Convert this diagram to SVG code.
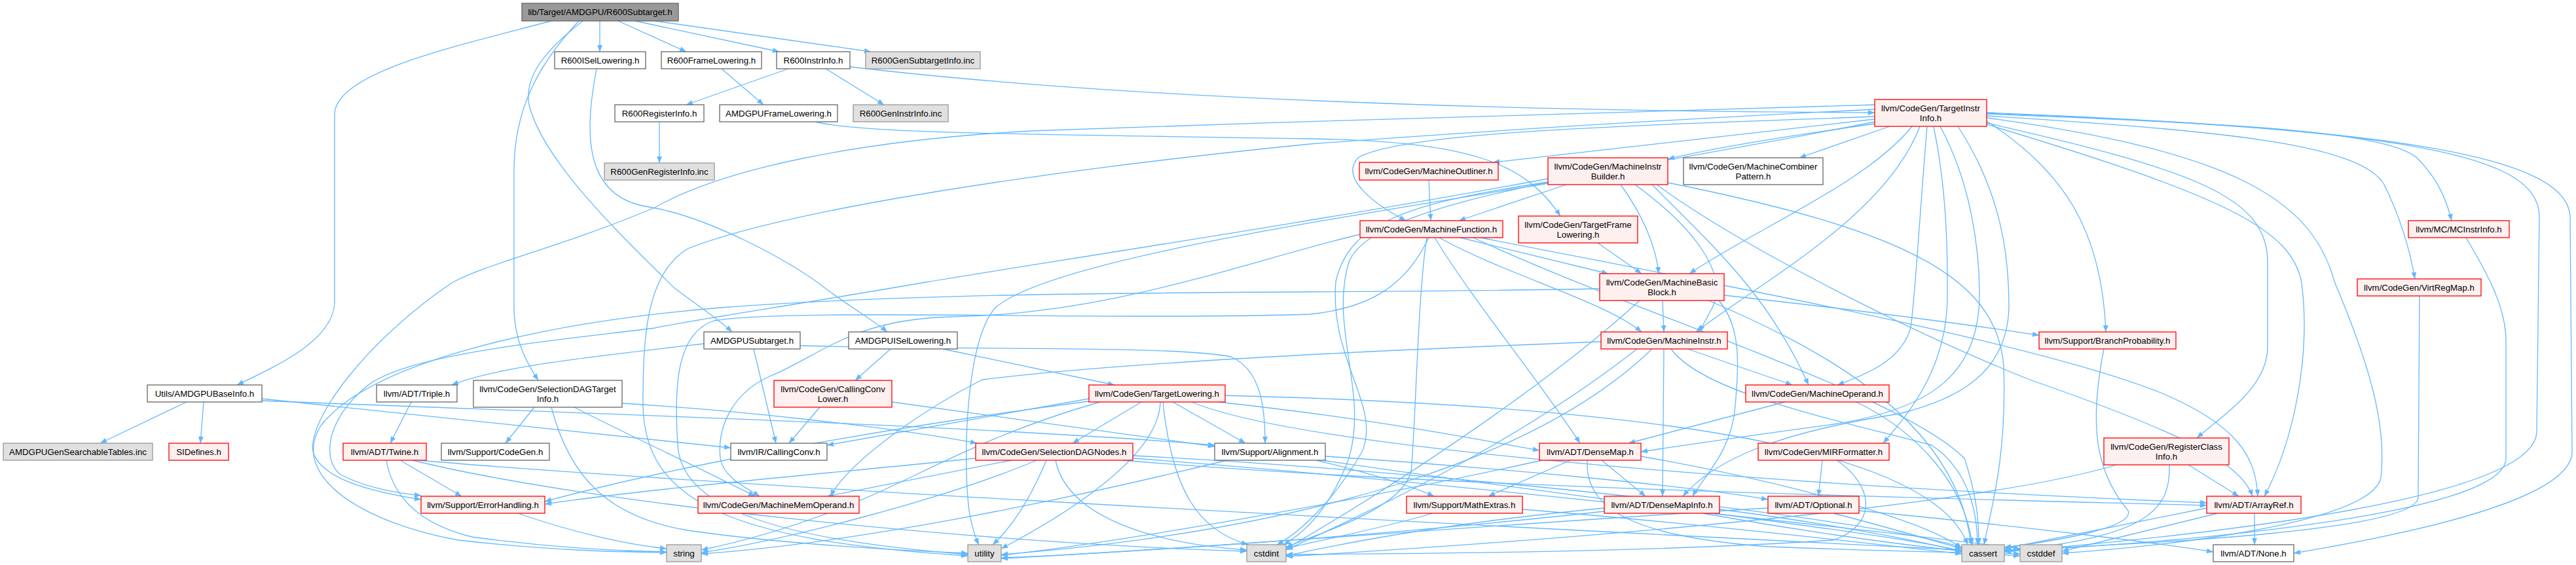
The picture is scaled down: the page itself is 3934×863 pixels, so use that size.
<svg xmlns="http://www.w3.org/2000/svg" width="3934" height="863" viewBox="0 0 3934 863">
<style>
.e{fill:none;stroke:#63b8ff;stroke-width:1.3;marker-end:url(#a)}
.n rect{stroke-width:1.3}
.w rect{fill:#ffffff;stroke:#666666}
.r rect{fill:#fff0f0;stroke:#ff0000}
.g rect{fill:#e0e0e0;stroke:#999999}
.k rect{fill:#999999;stroke:#666666}
text{font-family:"Liberation Sans",Arial,Helvetica,sans-serif;font-size:13.3px;fill:#000;text-anchor:middle}
</style>
<defs>
<marker id="a" viewBox="0 0 10 8" refX="10" refY="4" markerWidth="11" markerHeight="8" markerUnits="userSpaceOnUse" orient="auto"><path d="M0,0 L10,4 L0,8 z" fill="#63b8ff"/></marker>
</defs>
<rect x="0" y="0" width="3934" height="863" fill="#ffffff"/>
<g id="edges">
<path class="e" d="M842,32 C700,70 511,110 511,175 L511,460 C511,520 420,560 362,588"/>
<path class="e" d="M916,32 L916,79"/>
<path class="e" d="M944,32 L1048,79"/>
<path class="e" d="M970,32 L1190,79"/>
<path class="e" d="M1000,32 L1330,79"/>
<path class="e" d="M890,32 C835,75 800,115 808,160 C830,250 960,370 1030,440 C1070,470 1100,490 1118,507"/>
<path class="e" d="M884,32 C820,100 785,170 785,260 L785,470 C785,520 805,555 822,581"/>
<path class="e" d="M911,105 C895,190 885,300 990,316 C1080,330 1210,400 1260,440 C1300,470 1335,490 1355,507"/>
<path class="e" d="M1102,105 L1166,160"/>
<path class="e" d="M1204,105 L1048,160"/>
<path class="e" d="M1261,105 L1350,160"/>
<path class="e" d="M1298,102 C1700,150 2300,170 2863,172"/>
<path class="e" d="M1007,186 L1007,249"/>
<path class="e" d="M1245,186 C1320,205 1600,205 2000,212 C2250,216 2330,250 2383,330"/>
<path class="e" d="M285,614 L153,677"/>
<path class="e" d="M311,614 L306,677"/>
<path class="e" d="M400,609 C700,640 950,665 1116,684"/>
<path class="e" d="M400,612 C900,632 1500,650 1855,680"/>
<path class="e" d="M1075,525 C900,545 760,560 690,588"/>
<path class="e" d="M1151,533 L1185,677"/>
<path class="e" d="M1222,528 C1500,535 1800,528 1880,545 C1925,565 1932,620 1932,677"/>
<path class="e" d="M1360,533 L1306,581"/>
<path class="e" d="M1440,533 L1702,588"/>
<path class="e" d="M1252,622 L1205,677"/>
<path class="e" d="M1362,614 L1855,682"/>
<path class="e" d="M628,614 L596,677"/>
<path class="e" d="M950,616 C1100,625 1350,650 1492,677"/>
<path class="e" d="M816,622 L772,677"/>
<path class="e" d="M842,622 C870,730 930,790 1050,810 C1200,832 1400,842 1478,845"/>
<path class="e" d="M877,622 C950,660 1080,720 1153,758"/>
<path class="e" d="M611,703 L705,758"/>
<path class="e" d="M590,703 C600,760 640,800 720,820 C850,838 960,842 1018,843"/>
<path class="e" d="M640,703 C1000,735 2000,790 2996,840"/>
<path class="e" d="M630,703 C900,770 1500,830 1904,842"/>
<path class="e" d="M791,784 C880,815 960,832 1018,838"/>
<path class="e" d="M1663,609 L1263,680"/>
<path class="e" d="M1743,614 L1638,677"/>
<path class="e" d="M1791,614 L1902,677"/>
<path class="e" d="M1772,614 C1770,700 1620,790 1529,838"/>
<path class="e" d="M1776,614 C1790,750 1830,810 1906,832"/>
<path class="e" d="M1680,614 C1500,665 1400,730 1300,770 C1200,810 1120,830 1071,840"/>
<path class="e" d="M1670,612 C1300,660 1000,720 832,766"/>
<path class="e" d="M1820,614 C2000,690 2800,745 3370,768"/>
<path class="e" d="M1860,614 C2100,640 2250,670 2351,688"/>
<path class="e" d="M1871,604 C2500,620 2950,680 3005,832"/>
<path class="e" d="M1545,703 L1263,758"/>
<path class="e" d="M1490,700 C1300,720 1000,745 832,770"/>
<path class="e" d="M1583,703 C1450,760 1200,825 1071,844"/>
<path class="e" d="M1598,703 C1570,770 1540,810 1516,832"/>
<path class="e" d="M1612,703 C1630,790 1760,830 1904,840"/>
<path class="e" d="M1730,696 C2200,720 2850,790 2996,836"/>
<path class="e" d="M1730,700 C2200,735 2900,815 3085,838"/>
<path class="e" d="M1715,703 C2200,745 3000,762 3370,772"/>
<path class="e" d="M2010,703 C2080,720 2150,740 2190,758"/>
<path class="e" d="M2024,697 C2300,715 2600,745 2700,763"/>
<path class="e" d="M2020,703 C2400,760 2900,815 2996,842"/>
<path class="e" d="M1874,703 C1600,770 1300,830 1071,846"/>
<path class="e" d="M2863,182 L2280,248"/>
<path class="e" d="M2863,189 C2750,205 2620,225 2547,243"/>
<path class="e" d="M2886,193 L2748,241"/>
<path class="e" d="M2863,178 C2500,192 2150,200 2075,240 C2045,270 2095,310 2147,337"/>
<path class="e" d="M2920,193 C2850,280 2680,350 2580,418"/>
<path class="e" d="M2932,193 C2880,330 2690,430 2590,507"/>
<path class="e" d="M2943,193 C2930,350 2925,450 2918,500 C2905,550 2850,572 2806,588"/>
<path class="e" d="M2953,193 C2975,300 2974,400 2974,450 C2974,560 2920,625 2876,677"/>
<path class="e" d="M2963,193 C3010,280 3023,380 3023,450 C3023,570 2950,625 2800,648 C2650,668 2560,682 2506,690"/>
<path class="e" d="M2990,193 C3060,300 3068,400 3068,470 C3065,570 2990,610 2900,632 C2720,660 2620,700 2570,758"/>
<path class="e" d="M3034,185 C3150,260 3210,350 3216,507"/>
<path class="e" d="M3034,188 C3350,260 3463,300 3463,400 L3463,530 C3463,590 3400,630 3355,669"/>
<path class="e" d="M3034,190 C3400,300 3500,350 3515,432 C3530,550 3500,680 3458,758"/>
<path class="e" d="M3034,177 C3400,200 3600,220 3640,280 C3665,330 3680,380 3688,426"/>
<path class="e" d="M3034,174 C3400,188 3640,200 3690,240 C3720,270 3735,300 3744,337"/>
<path class="e" d="M3034,172 C3600,195 3920,230 3925,330 L3928,690 C3928,760 3700,812 3503,845"/>
<path class="e" d="M3034,173 C3700,198 3876,240 3878,330 L3874,660 C3870,760 3400,815 3061,843"/>
<path class="e" d="M3034,180 C3400,230 3530,300 3565,430 C3620,560 3645,650 3636,730 C3620,800 3300,835 3149,845"/>
<path class="e" d="M2863,186 C2500,260 2100,300 2060,400 C2030,500 2090,600 2060,700 C2030,780 1990,815 1960,832"/>
<path class="e" d="M2863,167 C2500,185 2200,205 2000,220 C1600,260 1200,320 1050,380 C985,420 982,520 982,620 C985,760 1100,825 1478,849"/>
<path class="e" d="M2863,160 C2400,172 2000,185 1574,200 C1300,215 1100,260 1000,317 C850,380 750,400 690,432 C560,520 470,640 478,690 C490,730 560,750 643,763"/>
<path class="e" d="M2392,282 L2228,337"/>
<path class="e" d="M2475,282 C2510,330 2530,380 2533,418"/>
<path class="e" d="M2497,282 C2590,350 2640,420 2615,470 L2595,507"/>
<path class="e" d="M2523,282 C2620,380 2700,450 2762,588"/>
<path class="e" d="M2530,282 C2650,370 2900,500 3100,580 C3300,650 3420,700 3440,758"/>
<path class="e" d="M2547,279 C2900,350 3050,420 3060,560 C3065,700 3040,780 3030,832"/>
<path class="e" d="M2364,273 C2000,340 1600,400 1414,431 C1200,468 1050,490 1000,501 C850,520 620,540 560,590 C500,640 490,700 520,725 C560,745 600,752 643,757"/>
<path class="e" d="M2364,278 C2150,310 2060,340 2040,430 C2030,550 2110,620 2080,690 C2040,760 1990,810 1950,832"/>
<path class="e" d="M2364,280 C2000,340 1600,400 1520,470 C1475,520 1470,700 1480,780 C1485,810 1490,822 1495,832"/>
<path class="e" d="M2230,363 L2456,418"/>
<path class="e" d="M2198,363 C2300,420 2450,460 2507,507"/>
<path class="e" d="M2191,363 C2250,460 2350,580 2413,677"/>
<path class="e" d="M2261,363 C2600,430 3100,520 3300,600 C3420,650 3445,700 3448,758"/>
<path class="e" d="M2250,363 C2500,480 2900,600 3000,700 C3020,760 3022,800 3022,832"/>
<path class="e" d="M2179,363 C2165,450 2162,650 2155,720 C2140,780 2010,815 1964,836"/>
<path class="e" d="M2182,363 C2150,430 2100,470 2000,480 C1700,490 1200,470 1090,490 C1030,510 1030,600 1035,680 C1040,780 1200,825 1478,847"/>
<path class="e" d="M2077,358 C1900,400 1700,480 1450,484 C1300,488 1250,545 1175,575 C1120,600 1095,650 1100,700 C1105,730 1140,745 1160,758"/>
<path class="e" d="M2577,533 L2737,588"/>
<path class="e" d="M2541,533 L2539,758"/>
<path class="e" d="M2445,522 C2100,535 1700,555 1500,580 C1420,620 1300,700 1268,758"/>
<path class="e" d="M2523,533 C2350,700 2000,810 1529,847"/>
<path class="e" d="M2552,533 C2600,600 2800,640 2950,680 C3010,720 3020,790 3020,832"/>
<path class="e" d="M2500,533 C2300,690 2050,800 1964,840"/>
<path class="e" d="M2539,459 L2541,507"/>
<path class="e" d="M2633,451 C2850,475 3000,495 3114,512"/>
<path class="e" d="M2443,441 C2000,450 1500,440 1100,470 C800,495 560,560 490,650 C440,730 560,800 700,825 C850,842 950,843 1018,844"/>
<path class="e" d="M2504,459 C2350,600 2100,760 1964,838"/>
<path class="e" d="M2609,459 C2800,540 2990,650 3010,832"/>
<path class="e" d="M2625,459 C2660,500 2655,560 2650,620 C2645,690 2600,730 2585,758"/>
<path class="e" d="M2726,614 L2487,677"/>
<path class="e" d="M2835,614 C2930,660 3000,740 3012,832"/>
<path class="e" d="M2783,703 L2777,758"/>
<path class="e" d="M2805,703 C2860,740 2870,800 2800,825 C2500,845 2100,846 1964,847"/>
<path class="e" d="M2446,703 L2513,758"/>
<path class="e" d="M2398,703 L2273,758"/>
<path class="e" d="M2355,703 C2100,760 1700,830 1529,848"/>
<path class="e" d="M2506,697 C2750,740 2950,800 2996,838"/>
<path class="e" d="M2424,703 C2420,780 2500,820 2700,835 C2900,843 3050,845 3085,846"/>
<path class="e" d="M2626,778 C2800,800 2950,830 2996,843"/>
<path class="e" d="M2600,784 C2800,820 3000,845 3085,849"/>
<path class="e" d="M2450,776 C2200,800 2050,830 1964,849"/>
<path class="e" d="M2450,781 C2100,820 1700,845 1529,852"/>
<path class="e" d="M2188,784 C2100,810 2000,828 1964,838"/>
<path class="e" d="M2325,778 C2600,800 2900,835 2996,846"/>
<path class="e" d="M2839,780 C3100,805 3300,830 3380,843"/>
<path class="e" d="M2800,784 C2900,810 2960,828 2996,838"/>
<path class="e" d="M2700,776 C2300,800 1800,840 1529,853"/>
<path class="e" d="M3443,784 L3443,832"/>
<path class="e" d="M3387,784 L3149,842"/>
<path class="e" d="M3370,776 C3250,800 3100,830 3061,838"/>
<path class="e" d="M3342,710 L3419,758"/>
<path class="e" d="M3313,710 C3315,780 3280,820 3061,842"/>
<path class="e" d="M3232,710 C3000,780 2300,830 1964,850"/>
<path class="e" d="M3213,533 C3190,650 3200,720 3250,780 C3260,805 3150,825 3061,836"/>
<path class="e" d="M3695,452 L3693,760 C3690,810 3300,830 3061,840"/>
<path class="e" d="M3766,363 C3800,420 3827,470 3827,520 L3827,700 C3827,780 3400,825 3061,842"/>
<path class="e" d="M2182,275 L2185,337"/>
<path class="e" d="M2440,371 L2507,418"/>
</g>
<g id="n_root" class="n k"><rect x="797" y="5" width="239" height="27"/><text x="916.5" y="23">lib/Target/AMDGPU/R600Subtarget.h</text></g>
<g id="n_r600isel" class="n w"><rect x="847" y="79" width="139" height="26"/><text x="916.5" y="96.5">R600ISelLowering.h</text></g>
<g id="n_r600frame" class="n w"><rect x="1010" y="79" width="153" height="26"/><text x="1086.5" y="96.5">R600FrameLowering.h</text></g>
<g id="n_r600instr" class="n w"><rect x="1186" y="79" width="112" height="26"/><text x="1242" y="96.5">R600InstrInfo.h</text></g>
<g id="n_gensub" class="n g"><rect x="1322" y="79" width="175" height="26"/><text x="1409.5" y="96.5">R600GenSubtargetInfo.inc</text></g>
<g id="n_r600reg" class="n w"><rect x="939" y="160" width="136" height="26"/><text x="1007" y="177.5">R600RegisterInfo.h</text></g>
<g id="n_amdframe" class="n w"><rect x="1099" y="160" width="180" height="26"/><text x="1189" y="177.5">AMDGPUFrameLowering.h</text></g>
<g id="n_geninstr" class="n g"><rect x="1303" y="160" width="145" height="26"/><text x="1375.5" y="177.5">R600GenInstrInfo.inc</text></g>
<g id="n_genreg" class="n g"><rect x="923" y="249" width="168" height="26"/><text x="1007" y="266.5">R600GenRegisterInfo.inc</text></g>
<g id="n_tii" class="n r"><rect x="2863" y="152" width="171" height="41"/><text x="2948.5" y="170">llvm/CodeGen/TargetInstr</text><text x="2948.5" y="185">Info.h</text></g>
<g id="n_outliner" class="n r"><rect x="2076" y="248" width="212" height="27"/><text x="2182" y="266">llvm/CodeGen/MachineOutliner.h</text></g>
<g id="n_mib" class="n r"><rect x="2364" y="241" width="183" height="41"/><text x="2455.5" y="259">llvm/CodeGen/MachineInstr</text><text x="2455.5" y="274">Builder.h</text></g>
<g id="n_mcp" class="n w"><rect x="2571" y="241" width="213" height="41"/><text x="2677.5" y="259">llvm/CodeGen/MachineCombiner</text><text x="2677.5" y="274">Pattern.h</text></g>
<g id="n_mf" class="n r"><rect x="2077" y="337" width="218" height="26"/><text x="2186" y="354.5">llvm/CodeGen/MachineFunction.h</text></g>
<g id="n_tfl" class="n r"><rect x="2319" y="330" width="182" height="41"/><text x="2410" y="348">llvm/CodeGen/TargetFrame</text><text x="2410" y="363">Lowering.h</text></g>
<g id="n_mcii" class="n r"><rect x="3678" y="337" width="154" height="26"/><text x="3755" y="354.5">llvm/MC/MCInstrInfo.h</text></g>
<g id="n_mbb" class="n r"><rect x="2443" y="418" width="190" height="41"/><text x="2538" y="436">llvm/CodeGen/MachineBasic</text><text x="2538" y="451">Block.h</text></g>
<g id="n_vrm" class="n r"><rect x="3600" y="426" width="189" height="26"/><text x="3694.5" y="443.5">llvm/CodeGen/VirtRegMap.h</text></g>
<g id="n_amdsub" class="n w"><rect x="1075" y="507" width="147" height="26"/><text x="1148.5" y="524.5">AMDGPUSubtarget.h</text></g>
<g id="n_amdisel" class="n w"><rect x="1296" y="507" width="166" height="26"/><text x="1379" y="524.5">AMDGPUISelLowering.h</text></g>
<g id="n_mi" class="n r"><rect x="2445" y="507" width="193" height="26"/><text x="2541.5" y="524.5">llvm/CodeGen/MachineInstr.h</text></g>
<g id="n_bp" class="n r"><rect x="3114" y="507" width="209" height="26"/><text x="3218.5" y="524.5">llvm/Support/BranchProbability.h</text></g>
<g id="n_utils" class="n w"><rect x="225" y="588" width="175" height="26"/><text x="312.5" y="605.5">Utils/AMDGPUBaseInfo.h</text></g>
<g id="n_triple" class="n w"><rect x="575" y="588" width="123" height="26"/><text x="636.5" y="605.5">llvm/ADT/Triple.h</text></g>
<g id="n_sdti" class="n w"><rect x="723" y="581" width="227" height="41"/><text x="836.5" y="599">llvm/CodeGen/SelectionDAGTarget</text><text x="836.5" y="614">Info.h</text></g>
<g id="n_cclower" class="n r"><rect x="1182" y="581" width="180" height="41"/><text x="1272" y="599">llvm/CodeGen/CallingConv</text><text x="1272" y="614">Lower.h</text></g>
<g id="n_tl" class="n r"><rect x="1663" y="588" width="208" height="26"/><text x="1767" y="605.5">llvm/CodeGen/TargetLowering.h</text></g>
<g id="n_mo" class="n r"><rect x="2666" y="588" width="219" height="26"/><text x="2775.5" y="605.5">llvm/CodeGen/MachineOperand.h</text></g>
<g id="n_search" class="n g"><rect x="5" y="677" width="228" height="26"/><text x="119" y="694.5">AMDGPUGenSearchableTables.inc</text></g>
<g id="n_sidef" class="n r"><rect x="258" y="677" width="91" height="26"/><text x="303.5" y="694.5">SIDefines.h</text></g>
<g id="n_twine" class="n r"><rect x="524" y="677" width="127" height="26"/><text x="587.5" y="694.5">llvm/ADT/Twine.h</text></g>
<g id="n_codegen" class="n w"><rect x="674" y="677" width="165" height="26"/><text x="756.5" y="694.5">llvm/Support/CodeGen.h</text></g>
<g id="n_cc" class="n w"><rect x="1116" y="677" width="147" height="26"/><text x="1189.5" y="694.5">llvm/IR/CallingConv.h</text></g>
<g id="n_sdn" class="n r"><rect x="1490" y="677" width="240" height="26"/><text x="1610" y="694.5">llvm/CodeGen/SelectionDAGNodes.h</text></g>
<g id="n_align" class="n w"><rect x="1855" y="677" width="169" height="26"/><text x="1939.5" y="694.5">llvm/Support/Alignment.h</text></g>
<g id="n_dm" class="n r"><rect x="2351" y="677" width="155" height="26"/><text x="2428.5" y="694.5">llvm/ADT/DenseMap.h</text></g>
<g id="n_mirf" class="n r"><rect x="2685" y="677" width="200" height="26"/><text x="2785" y="694.5">llvm/CodeGen/MIRFormatter.h</text></g>
<g id="n_rci" class="n r"><rect x="3213" y="669" width="191" height="41"/><text x="3308.5" y="687">llvm/CodeGen/RegisterClass</text><text x="3308.5" y="702">Info.h</text></g>
<g id="n_eh" class="n r"><rect x="643" y="758" width="189" height="26"/><text x="737.5" y="775.5">llvm/Support/ErrorHandling.h</text></g>
<g id="n_mmo" class="n r"><rect x="1066" y="758" width="246" height="26"/><text x="1189" y="775.5">llvm/CodeGen/MachineMemOperand.h</text></g>
<g id="n_mathex" class="n r"><rect x="2148" y="758" width="177" height="26"/><text x="2236.5" y="775.5">llvm/Support/MathExtras.h</text></g>
<g id="n_dmi" class="n r"><rect x="2450" y="758" width="176" height="26"/><text x="2538" y="775.5">llvm/ADT/DenseMapInfo.h</text></g>
<g id="n_opt" class="n r"><rect x="2700" y="758" width="139" height="26"/><text x="2769.5" y="775.5">llvm/ADT/Optional.h</text></g>
<g id="n_ar" class="n r"><rect x="3370" y="758" width="144" height="26"/><text x="3442" y="775.5">llvm/ADT/ArrayRef.h</text></g>
<g id="n_string" class="n g"><rect x="1018" y="832" width="53" height="26"/><text x="1044.5" y="849.5">string</text></g>
<g id="n_utility" class="n g"><rect x="1478" y="832" width="51" height="26"/><text x="1503.5" y="849.5">utility</text></g>
<g id="n_cstdint" class="n g"><rect x="1904" y="832" width="60" height="26"/><text x="1934" y="849.5">cstdint</text></g>
<g id="n_cassert" class="n g"><rect x="2996" y="832" width="65" height="26"/><text x="3028.5" y="849.5">cassert</text></g>
<g id="n_cstddef" class="n g"><rect x="3085" y="832" width="64" height="26"/><text x="3117" y="849.5">cstddef</text></g>
<g id="n_none" class="n w"><rect x="3380" y="832" width="123" height="26"/><text x="3441.5" y="849.5">llvm/ADT/None.h</text></g>
</svg>
